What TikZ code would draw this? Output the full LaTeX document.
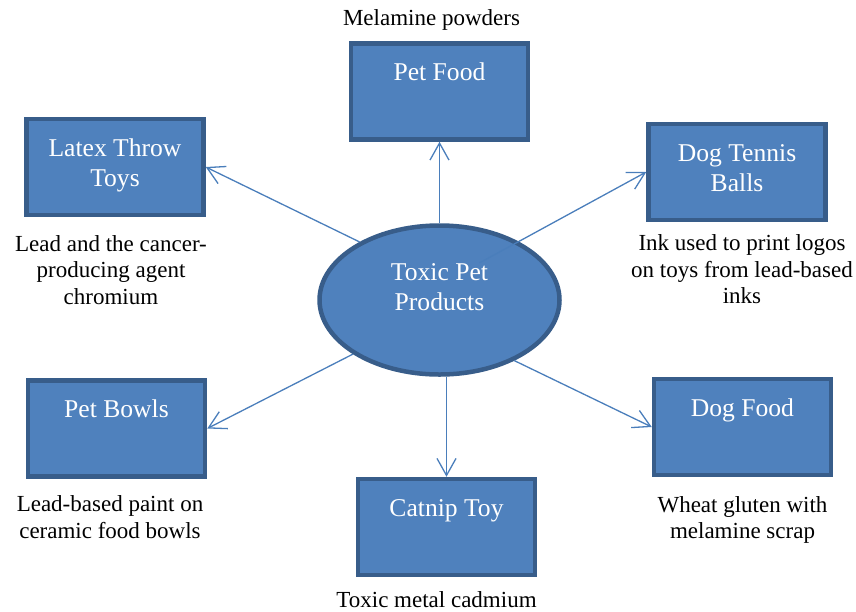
\documentclass[tikz,border=0pt]{standalone}
\usepackage{fontspec}
\setmainfont{Liberation Serif}
\usetikzlibrary{calc,positioning,shapes.geometric,arrows.meta}
\definecolor{boxfill}{HTML}{4F81BD}
\definecolor{boxline}{HTML}{385D8A}
\definecolor{arrowline}{HTML}{4A7EBB}
\newcommand{\boxtxt}[1]{\parbox[c][90pt][t]{170pt}{\centering\rule{0pt}{34pt}#1}}

\begin{document}
\begin{tikzpicture}[x=1pt, y=-1pt, box/.style={rectangle, draw=boxline,
    fill=boxfill, line width=4.5pt, minimum width=177pt, minimum height=96pt,
    inner sep=0pt, text=white, font=\fontsize{25.6}{30}\selectfont},
    note/.style={align=center, inner sep=0pt, font=\fontsize{23}{26.5}\selectfont},
    link/.style={->, draw=arrowline, line width=1.3pt},
    >={Straight Barb[length=17pt,width=19pt]}]
    \useasboundingbox (0,0) rectangle (856,611);
    \node[ellipse, draw=boxline, fill=boxfill, line width=4.5pt, minimum width=240pt,
      minimum height=149pt, inner sep=0pt, text=white,
      font=\fontsize{25.6}{30}\selectfont] (T) at (439.5,300)
      {\parbox[c][100pt][t]{160pt}{\centering\rule{0pt}{30pt}Toxic Pet\\ Products}};
    \node[box] (A) at (115,167) {\boxtxt{Latex Throw\\ Toys}};
    \node[box] (B) at (439.5,91.5) {\boxtxt{Pet Food}};
    \node[box] (C) at (737,172) {\boxtxt{Dog Tennis\\ Balls}};
    \node[box] (D) at (116.5,428.5) {\boxtxt{Pet Bowls}};
    \node[box] (E) at (742.5,427) {\boxtxt{Dog Food}};
    \node[box] (F) at (446.5,527) {\boxtxt{Catnip Toy}};
    \node[note, below=18pt of A, xshift=-4pt] (a) {Lead and the cancer-\\ producing agent\\ chromium};
    \node[note, above=11pt of B, xshift=-8pt] (b) {Melamine powders};
    \node[note, below=12.5pt of C, xshift=5pt] (c) {Ink used to print logos\\ on toys from lead-based\\ inks};
    \node[note, below=17pt of D, xshift=-6.5pt] (d) {Lead-based paint on\\ ceramic food bowls};
    \node[note, below=19pt of E] (e) {Wheat gluten with\\ melamine scrap};
    \node[note, below=14pt of F, xshift=-10pt] (f) {Toxic metal cadmium};
    \draw[link] (T.144) -- (A.east);
    \draw[link] (T.north) -- (B.south);
    \draw[link] ([xshift=-40pt,yshift=-21pt]T.36) -- (C.west);
    \draw[link] (T.212) -- (D.east);
    \draw[link] (T.321) -- (E.west);
    \draw[link] let \p1 = (F.north), \p2 = (T.south) in (\x1,\y2) -- (F.north);
\end{tikzpicture}
\end{document}
